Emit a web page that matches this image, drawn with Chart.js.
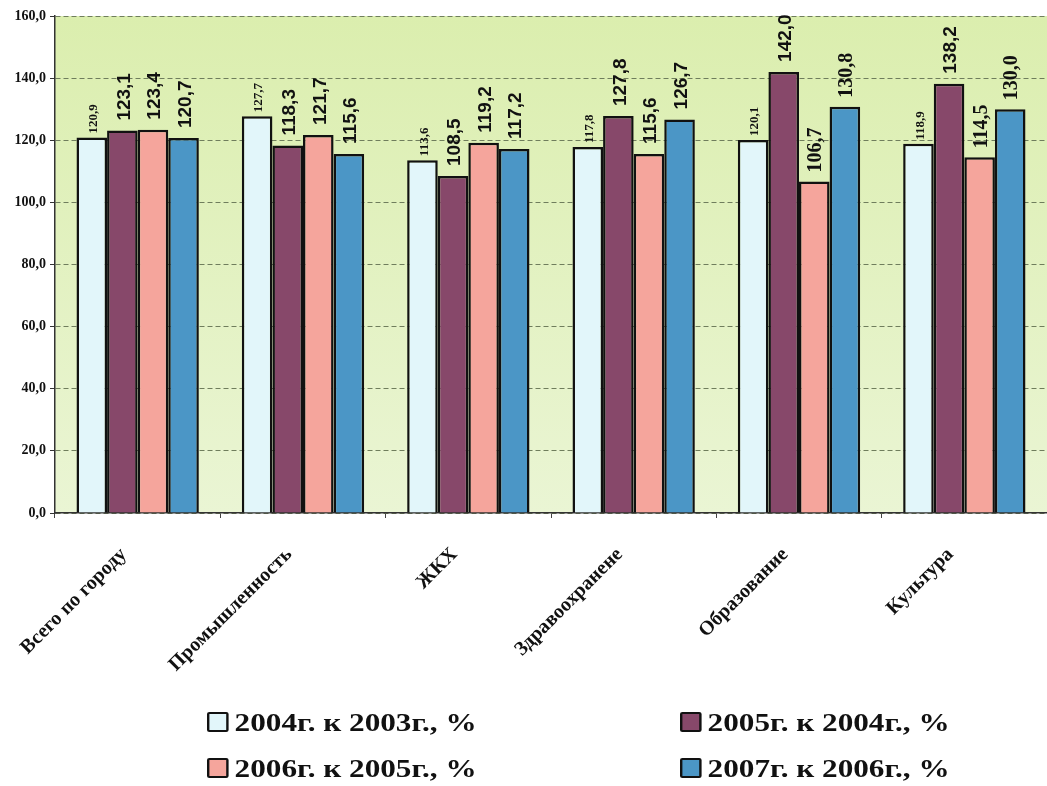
<!DOCTYPE html>
<html>
<head>
<meta charset="utf-8">
<script src="https://cdn.jsdelivr.net/npm/chart.js@4/dist/chart.umd.min.js"></script>
<style>
  body { margin: 0; background: #fff; }
  #wrap { position: relative; width: 1047px; height: 786px; }
  #legend { position: absolute; left: 0; top: 708px; width: 1047px; font-family: "Liberation Serif", serif; font-weight: bold; font-size: 26px; color: #111; }
  .item { position: absolute; white-space: nowrap; transform: scaleX(1.2); transform-origin: left center; }
  .box { display: inline-block; width: 14px; height: 16px; border: 2px solid #111; border-radius: 2px; margin-right: 5px; vertical-align: -1px; }
</style>
</head>
<body>
<div id="wrap">
  <canvas id="growthChart" width="1047" height="786"></canvas>
  <div id="legend"></div>
</div>
<script>
const categories = ['Всего по городу', 'Промышленность', 'ЖКХ', 'Здравоохранене', 'Образование', 'Культура'];
const seriesNames = ['2004г. к 2003г., %', '2005г. к 2004г., %', '2006г. к 2005г., %', '2007г. к 2006г., %'];
const values2004 = [120.9, 127.7, 113.6, 117.8, 120.1, 118.9];
const values2005 = [123.1, 118.3, 108.5, 127.8, 142.0, 138.2];
const values2006 = [123.4, 121.7, 119.2, 115.6, 106.7, 114.5];
const values2007 = [120.7, 115.6, 117.2, 126.7, 130.8, 130.0];
const yTicks = [0, 20, 40, 60, 80, 100, 120, 140, 160];

const colors = ['#e2f6fa', '#87486a', '#f5a59c', '#4b96c6'];
const allValues = [values2004, values2005, values2006, values2007];

function fmt(v) {
    return v.toFixed(1).replace('.', ',');
}

// green plot background
const plotBackground = {
    id: 'plotBackground',
    beforeDraw(chart) {
        const { ctx, chartArea: a } = chart;
        const g = ctx.createLinearGradient(0, a.top, 0, a.bottom);
        g.addColorStop(0, '#dbeeae');
        g.addColorStop(1, '#eaf5d4');
        ctx.save();
        ctx.fillStyle = g;
        ctx.fillRect(a.left, a.top, a.right - a.left, a.bottom - a.top);
        ctx.restore();
    }
};

// vertical value labels above bars
const barLabels = {
    id: 'barLabels',
    afterDatasetsDraw(chart) {
        const ctx = chart.ctx;
        chart.data.datasets.forEach((ds, i) => {
            const meta = chart.getDatasetMeta(i);
            meta.data.forEach((bar, j) => {
                let font, gap;
                if (i === 0) { font = 'bold 13px "Liberation Serif"'; gap = 4; }
                else if (j >= 4 && i !== 1) { font = 'bold 20px "Liberation Serif"'; gap = 9; }
                else { font = 'bold 19px "Liberation Sans"'; gap = 10; }
                ctx.save();
                ctx.font = font;
                ctx.fillStyle = '#111';
                ctx.translate(bar.x + 2, bar.y - gap);
                ctx.rotate(-Math.PI / 2);
                ctx.textAlign = 'left';
                ctx.textBaseline = 'middle';
                ctx.fillText(fmt(ds.data[j]), 0, 0);
                ctx.restore();
            });
        });
    }
};

new Chart(document.getElementById('growthChart').getContext('2d'), {
    type: 'bar',
    data: {
        labels: categories,
        datasets: seriesNames.map((name, i) => ({
            label: name,
            data: allValues[i],
            backgroundColor: colors[i],
            borderColor: '#111',
            borderWidth: 2.5,
            barPercentage: 1,
            categoryPercentage: 0.74
        }))
    },
    options: {
        responsive: false,
        animation: false,
        layout: { padding: { top: 16, right: 0, left: 0, bottom: 0 } },
        plugins: {
            legend: { display: false },
            tooltip: { enabled: false }
        },
        scales: {
            x: {
                grid: {
                    display: true,
                    drawOnChartArea: false,
                    offset: true,
                    tickLength: 5,
                    tickColor: '#444'
                },
                border: { color: '#333', width: 1.5 },
                ticks: {
                    minRotation: 45,
                    maxRotation: 45,
                    padding: 25,
                    labelOffset: -14,
                    color: '#111',
                    font: { family: '"Liberation Serif"', size: 20, weight: 'bold' }
                },
                afterFit(scale) { scale.height = 273; }
            },
            y: {
                min: 0,
                max: 160,
                afterBuildTicks(scale) { scale.ticks = yTicks.map(v => ({ value: v })); },
                grid: {
                    color: '#6f7d5c',
                    lineWidth: 1,
                    tickLength: 5,
                    tickColor: '#333'
                },
                border: { color: '#333', width: 1.5, dash: [5, 3] },
                ticks: {
                    color: '#111',
                    padding: 4,
                    font: { family: '"Liberation Serif"', size: 14, weight: 'bold' },
                    callback: v => fmt(v)
                },
                afterFit(scale) { scale.width = 55; }
            }
        }
    },
    plugins: [plotBackground, barLabels]
});

// legend in two columns
const legend = document.getElementById('legend');
const spots = [[207, 0], [680, 0], [207, 46], [680, 46]];
seriesNames.forEach((name, i) => {
    const d = document.createElement('div');
    d.className = 'item';
    d.style.left = spots[i][0] + 'px';
    d.style.top = spots[i][1] + 'px';
    d.innerHTML = '<span class="box" style="background:' + colors[i] + '"></span>' + name;
    legend.appendChild(d);
});
</script>
</body>
</html>
